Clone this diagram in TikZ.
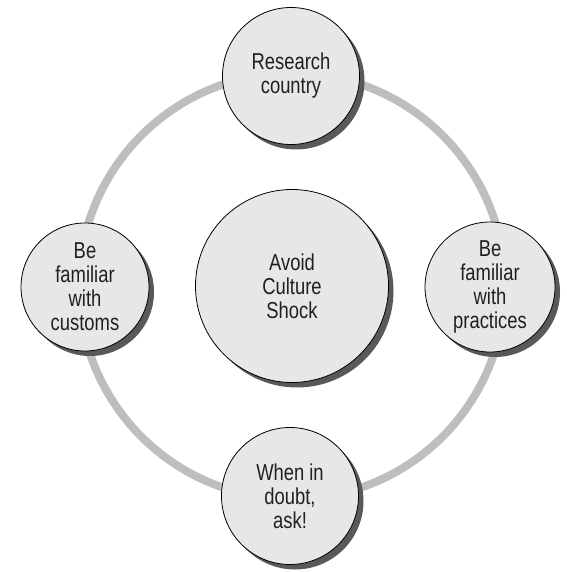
\documentclass[tikz,border=0pt]{standalone}
\usepackage{fontspec}
\setmainfont{Liberation Sans}[FakeStretch=0.8]
\usetikzlibrary{shadows}

\definecolor{bubblefill}{HTML}{E6E7E8}
\definecolor{shadowgray}{HTML}{58595B}
\definecolor{ringgray}{HTML}{BCBEC0}
\definecolor{textgray}{HTML}{231F20}

\tikzset{
        bubble/.style={circle, draw=black, line width=0.8pt, fill=bubblefill,
                text=textgray, align=center, inner sep=0pt,
                font=\fontsize{23}{24}\selectfont,
                drop shadow={shadow xshift=5pt, shadow yshift=-5pt,
                        fill=shadowgray, opacity=1}},
        ring/.style={draw=ringgray, line width=8pt}
}

\begin{document}
\begin{tikzpicture}[x=1pt, y=-1pt]
        \useasboundingbox (0,0) rectangle (566,572);

        \draw [ring] (292,286) circle (213pt);

        \node (C) [bubble, minimum size=193pt] at (292,286) {Avoid\\Culture\\Shock};
        \node (T) [bubble, minimum size=137pt] at (291,76) {Research\\country};
        \node (L) [bubble, minimum size=128pt] at (85,287) {Be\\familiar\\with\\customs};
        \node (R) [bubble, minimum size=130pt] at (490,287) {Be\\familiar\\with\\practices};
        \node (B) [bubble, minimum size=137pt] at (290,496) {When in\\doubt,\\ask!};
\end{tikzpicture}
\end{document}
